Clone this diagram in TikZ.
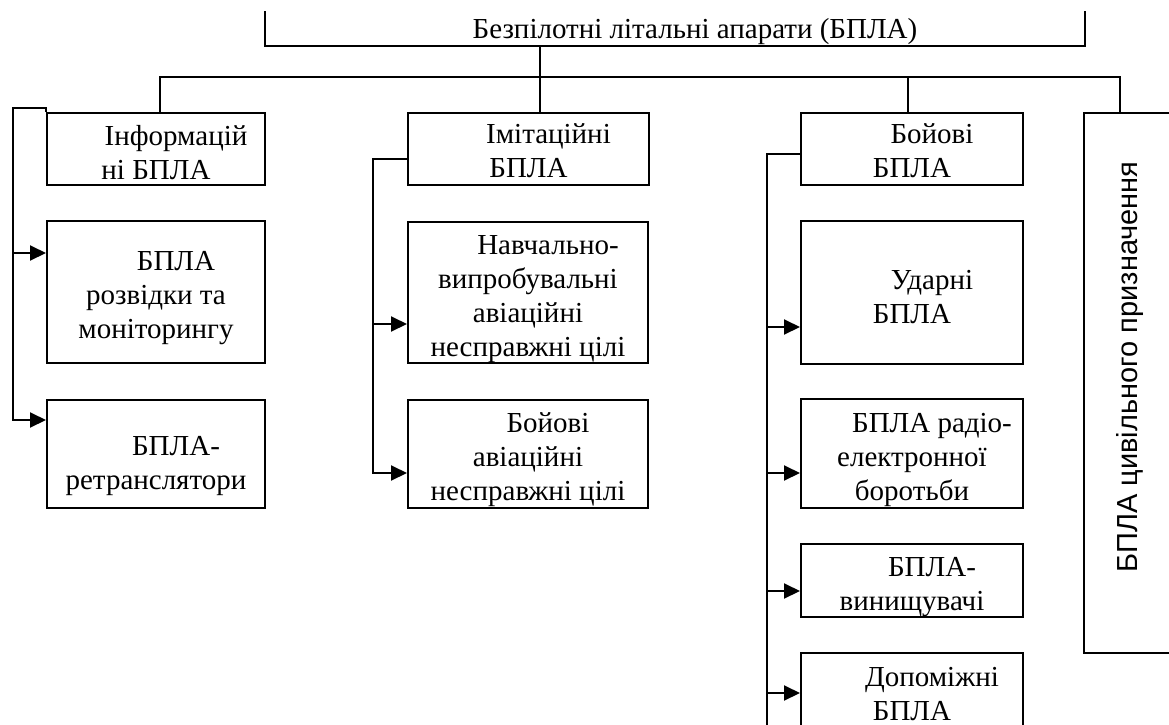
\documentclass[tikz,border=0pt]{standalone}
\usepackage{fontspec}
\usepackage{graphicx}
\setmainfont{Liberation Serif}
\newfontfamily\civfont{Liberation Sans}
\usetikzlibrary{arrows.meta,calc}
\newcommand\dn[1]{\rule{0pt}{#1}\hspace*{20pt}}
\begin{document}
\begin{tikzpicture}[x=0.5pt,y=-0.5pt,line width=1pt,
  box/.style={draw, line width=1pt, inner sep=0pt, align=center,
    font=\fontsize{14.5}{17}\selectfont},
  arr/.style={-{Triangle[length=8pt,width=7.5pt]}},
  ttlstyle/.style={inner sep=0pt, font=\fontsize{14.5}{17}\selectfont}]
\useasboundingbox (0,0) rectangle (1169,724);
\fill[white] (0,0) rectangle (1169,724);

% title (open box)
\node[ttlstyle, anchor=base] (ttl) at (675,38) {\hspace*{20pt}Безпілотні літальні апарати (БПЛА)};
\coordinate (tl) at (265,11);
\coordinate (tr) at (1085,11);
\coordinate (tb) at (675,46);
\draw (tl) -- (tl |- tb) -- (tr |- tb) -- (tr);

% boxes
\node[box, minimum width=109pt, minimum height=36pt] (inf) at (156,149) {\dn{14pt}Інформацій\\ні БПЛА};
\node[box, minimum width=109pt, minimum height=71pt] (mon) at (156,292) {\dn{16pt}БПЛА\\розвідки та\\моніторингу};
\node[box, minimum width=109pt, minimum height=54pt] (ret) at (156,454) {\dn{22pt}БПЛА-\\ретранслятори};

\node[box, minimum width=120.5pt, minimum height=36pt] (imi) at (528.5,149) {\dn{12pt}Імітаційні\\БПЛА};
\node[box, minimum width=120pt, minimum height=70.5pt] (nav) at (528,292.5) {\dn{16pt}Навчально-\\випробувальні\\авіаційні\\несправжні цілі};
\node[box, minimum width=120pt, minimum height=54pt] (bav) at (528,454) {\dn{16pt}Бойові\\авіаційні\\несправжні цілі};

\node[box, minimum width=111pt, minimum height=36pt] (boy) at (912,149) {\dn{12pt}Бойові\\БПЛА};
\node[box, minimum width=111pt, minimum height=71.5pt] (uda) at (912,292.5) {\dn{14pt}Ударні\\БПЛА};
\node[box, minimum width=111pt, minimum height=54.5pt] (reb) at (912,453.5) {\dn{16pt}БПЛА радіо-\\електронної\\боротьби};
\node[box, minimum width=111pt, minimum height=36.5pt] (vyn) at (912,580.5) {\dn{16pt}БПЛА-\\винищувачі};
\node[box, minimum width=111pt, minimum height=37.5pt] (dop) at (912,690.5) {\dn{13pt}Допоміжні\\БПЛА};

\node[box, minimum width=46pt, minimum height=270pt] (civ) at (1130,383) {};
\node[rotate=90, inner sep=0pt, font=\civfont\fontsize{14.5}{17}\selectfont] (civt) at (1130,367) {БПЛА цивільного призначення};

% main bus
\coordinate (t1) at (540,46);
\coordinate (busL) at (160,77);
\coordinate (busR) at (1120,77);
\coordinate (b3) at (908,77);
\draw (t1) -- (t1 |- imi.north);
\draw (busL |- inf.north) -- (busL) -- (busR) -- (busR |- civ.north);
\draw (b3) -- (b3 |- boy.north);

% left group
\coordinate (l1) at (13,108);
\coordinate (la) at (13,253);
\coordinate (lb) at (13,420);
\draw[arr] (inf.north west) |- (l1) |- (ret.west |- lb);
\draw[arr] (la) -- (la -| mon.west);

% middle group
\coordinate (m1) at (373,159);
\coordinate (ma) at (373,324);
\coordinate (mb) at (373,473);
\draw[arr] (imi.west |- m1) -- (m1) |- (bav.west |- mb);
\draw[arr] (ma) -- (ma -| nav.west);

% right group
\coordinate (r1) at (767,154);
\coordinate (ra) at (767,327);
\coordinate (rb) at (767,473);
\coordinate (rc) at (767,591);
\coordinate (rd) at (767,693);
\coordinate (re) at (767,730);
\draw (boy.west |- r1) -- (r1) -- (re);
\draw[arr] (ra) -- (ra -| uda.west);
\draw[arr] (rb) -- (rb -| reb.west);
\draw[arr] (rc) -- (rc -| vyn.west);
\draw[arr] (rd) -- (rd -| dop.west);
\end{tikzpicture}
\end{document}
